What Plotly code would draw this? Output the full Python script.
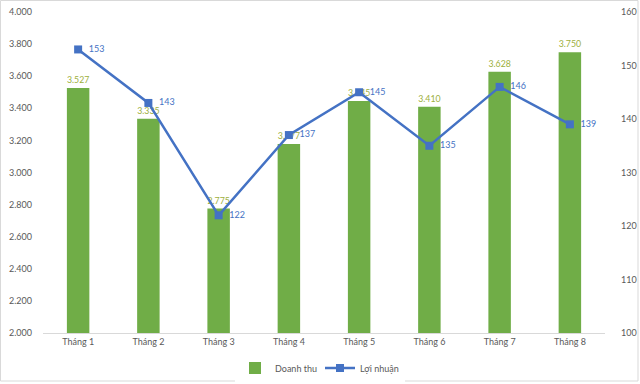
import plotly.graph_objects as go

categories = ["Tháng 1", "Tháng 2", "Tháng 3", "Tháng 4", "Tháng 5", "Tháng 6", "Tháng 7", "Tháng 8"]
doanh_thu = [3527, 3335, 2775, 3177, 3445, 3410, 3628, 3750]
loi_nhuan = [153, 143, 122, 137, 145, 135, 146, 139]
left_ticks = [2000, 2200, 2400, 2600, 2800, 3000, 3200, 3400, 3600, 3800, 4000]
right_ticks = [100, 110, 120, 130, 140, 150, 160]


def fmt(v):
    return f"{v:,}".replace(",", ".")


FONT = "Lato, 'Open Sans', sans-serif"
GRAY = "#595959"
GREEN = "#70AD47"
BLUE = "#4472C4"

L, R, T, B = 43, 35, 12, 51
W, H = 640, 384
pw, ph = W - L - R, H - T - B

fig = go.Figure()
fig.add_trace(go.Bar(
    x=categories, y=doanh_thu, name="Doanh thu",
    marker=dict(color=GREEN, line=dict(width=0)),
    text=[fmt(v) for v in doanh_thu], textposition="outside",
    textfont=dict(color="#9DAF3C", size=9, family=FONT),
    cliponaxis=False,
))
fig.add_trace(go.Scatter(
    x=categories, y=loi_nhuan, name="Lợi nhuận", yaxis="y2",
    mode="lines+markers+text",
    line=dict(color=BLUE, width=2.5),
    marker=dict(symbol="square", size=8, color=BLUE),
    text=["  " + str(v) for v in loi_nhuan], textposition="middle right",
    textfont=dict(color=BLUE, size=9, family=FONT),
    cliponaxis=False,
))

fig.update_layout(
    width=W, height=H,
    margin=dict(l=L, r=R, t=T, b=B, autoexpand=False),
    paper_bgcolor="white", plot_bgcolor="white",
    font=dict(family=FONT, size=9, color=GRAY),
    bargap=0.68,
    showlegend=True,
    legend=dict(orientation="h", x=0.5, xanchor="center", xref="container",
                y=16 / H, yanchor="middle", yref="container",
                font=dict(size=9, color=GRAY), itemwidth=30,
                entrywidth=40, entrywidthmode="pixels"),
    xaxis=dict(showgrid=False, showline=True, linecolor="#D9D9D9", linewidth=1,
               ticks="", tickfont=dict(size=9, color=GRAY), automargin=False),
    yaxis=dict(range=[2000, 4000], tickvals=left_ticks, ticktext=[fmt(v) for v in left_ticks],
               showgrid=False, zeroline=False, showline=False, ticks="",
               tickfont=dict(size=9, color=GRAY), automargin=False, ticklabelstandoff=10),
    yaxis2=dict(range=[100, 160], tickvals=right_ticks, ticktext=[str(v) for v in right_ticks],
                overlaying="y", side="right", showgrid=False, zeroline=False, showline=False,
                ticks="", ticklabelstandoff=15, automargin=False,
                tickfont=dict(size=9, color=GRAY)),
    shapes=[dict(type="rect", xref="paper", yref="paper",
                 x0=(0.5 - L) / pw, x1=(638 - L) / pw,
                 y0=-(381 - (H - B)) / ph, y1=((H - B) - 0.5) / ph,
                 line=dict(color="#D9D9D9", width=1))],
)

fig.write_html("out.html", config={"displayModeBar": False},
               post_script="document.body.style.margin='0';document.body.style.overflow='hidden';")
